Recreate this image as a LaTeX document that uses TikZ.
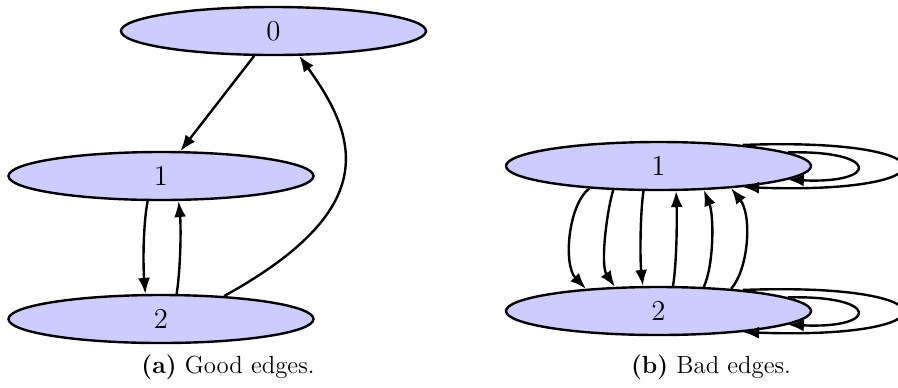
\documentclass[tikz,border=0pt]{standalone}
\usetikzlibrary{shapes.geometric,arrows.meta}
\begin{document}
\begin{tikzpicture}[x=0.5pt,y=-0.5pt,
  vtx/.style={ellipse,draw,fill=blue!20,line width=1.2pt,minimum width=152.5pt,minimum height=24pt,inner sep=0pt,font=\fontsize{14.4}{17}\selectfont},
  conn/.style={line width=1.2pt,-{Latex[length=8pt,width=6pt]}},
  captext/.style={font=\fontsize{12.4}{14}\selectfont}]
\useasboundingbox (0,0) rectangle (898,387);
% (a) good edges
\node[vtx] (a0) at (273.5,31) {0};
\node[vtx] (a1) at (161,176) {1};
\node[vtx] (a2) at (161,319) {2};
\draw[conn] (a0) -- (a1);
\draw[conn] (a1.-118) .. controls (143,225) and (143,265) .. (a2.122);
\draw[conn] (a2.58) .. controls (181,265) and (181,225) .. (a1.-55);
\draw[conn] (a2.20) .. controls (380,210) and (360,140) .. (a0.-44);
\node[captext] (capa) at (228,367) {\textbf{(a)} Good edges.};
% (b) bad edges
\node[vtx] (b1) at (658.5,166) {1};
\node[vtx] (b2) at (658.5,311) {2};
\draw[conn] (b1.198) .. controls (568,205) and (563,265) .. (b2.163);
\draw[conn] (b1.208.5) .. controls (607,210) and (600,265) .. (b2.151.5);
\draw[conn] (b1.239) .. controls (640,215) and (640,260) .. (b2.122);
\draw[conn] (b2.60.5) .. controls (677,262) and (677,215) .. (b1.-55.4);
\draw[conn] (b2.28.5) .. controls (714,265) and (714,215) .. (b1.-28);
\draw[conn] (b2.17.4) .. controls (749,268) and (752,215) .. (b1.-17.4);
\draw[conn] (b1.6) .. controls (880,150) and (880,184) .. (b1.-6);
\draw[conn] (b1.14) .. controls (955,137) and (955,195) .. (b1.-14);
\draw[conn] (b2.6) .. controls (880,295) and (880,329) .. (b2.-6);
\draw[conn] (b2.14) .. controls (955,282) and (955,340) .. (b2.-14);
\node[captext] (capb) at (711,367) {\textbf{(b)} Bad edges.};
\end{tikzpicture}
\end{document}
